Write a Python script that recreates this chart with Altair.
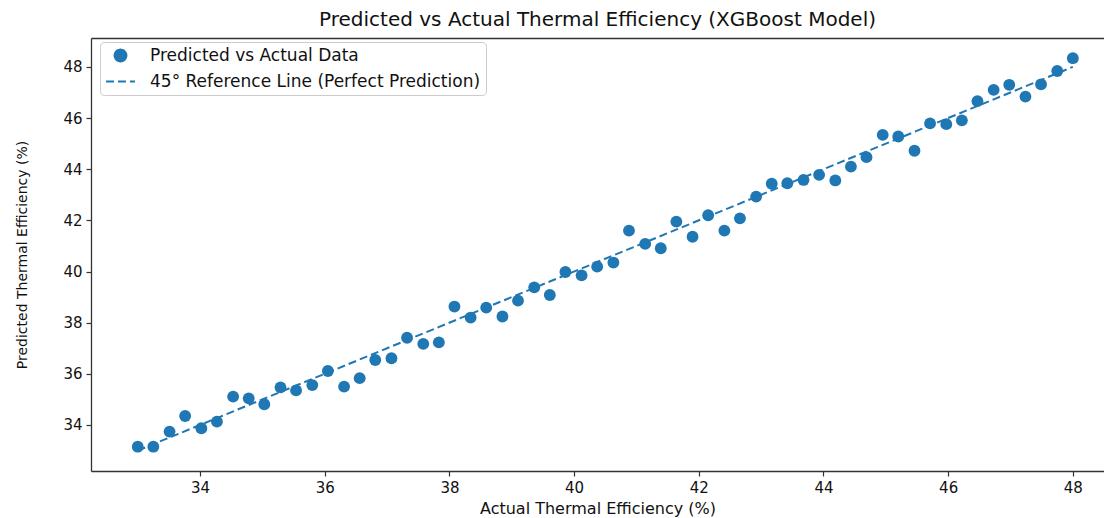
import altair as alt
import pandas as pd

actual = [33.00, 33.25, 33.51, 33.76, 34.02, 34.27, 34.53, 34.78, 35.03, 35.29,
          35.54, 35.80, 36.05, 36.31, 36.56, 36.81, 37.07, 37.32, 37.58, 37.83,
          38.08, 38.34, 38.59, 38.85, 39.10, 39.36, 39.61, 39.86, 40.12, 40.37,
          40.63, 40.88, 41.14, 41.39, 41.64, 41.90, 42.15, 42.41, 42.66, 42.92,
          43.17, 43.42, 43.68, 43.93, 44.19, 44.44, 44.69, 44.95, 45.20, 45.46,
          45.71, 45.97, 46.22, 46.47, 46.73, 46.98, 47.24, 47.49, 47.75, 48.00]
predicted = [33.15, 33.15, 33.74, 34.35, 33.87, 34.13, 35.11, 35.04, 34.81, 35.47,
             35.35, 35.56, 36.11, 35.50, 35.83, 36.54, 36.61, 37.41, 37.17, 37.23,
             38.63, 38.20, 38.59, 38.24, 38.86, 39.38, 39.08, 39.98, 39.85, 40.19,
             40.35, 41.60, 41.08, 40.91, 41.95, 41.36, 42.20, 41.60, 42.08, 42.93,
             43.43, 43.45, 43.58, 43.78, 43.56, 44.10, 44.47, 45.34, 45.28, 44.72,
             45.79, 45.76, 45.91, 46.66, 47.10, 47.30, 46.84, 47.32, 47.84, 48.34]
ref_line = [33.0, 48.0]
series_names = ["Predicted vs Actual Data", "45° Reference Line (Perfect Prediction)"]
tick_values = [34, 36, 38, 40, 42, 44, 46, 48]

blue = "#1f77b4"

pts = pd.DataFrame({"actual": actual, "predicted": predicted, "series": series_names[0]})
line = pd.DataFrame({"actual": ref_line, "predicted": ref_line, "series": series_names[1]})

xscale = alt.Scale(domain=[32.25, 48.5], nice=False, zero=False)
yscale = alt.Scale(domain=[32.2, 49.13], nice=False, zero=False)

legend = alt.Legend(
    title=None, orient="none", legendX=9, legendY=4,
    fillColor="white", strokeColor="#cccccc", cornerRadius=4,
    padding=5, labelFontSize=17, labelFont="DejaVu Sans", labelColor="#111",
    labelLimit=0, rowPadding=-7, labelOffset=14, symbolStrokeWidth=2,
    symbolStrokeColor=blue, symbolFillColor=blue,
)
color = alt.Color("series:N", scale=alt.Scale(domain=series_names, range=[blue, blue]), legend=legend)
shape = alt.Shape("series:N", scale=alt.Scale(domain=series_names, range=["circle", "stroke"]), legend=legend)
size = alt.Size("series:N", scale=alt.Scale(domain=series_names, range=[140, 840]), legend=legend)
dash = alt.StrokeDash("series:N", scale=alt.Scale(domain=series_names, range=[[1, 0], [8, 4]]), legend=legend)

scatter = alt.Chart(pts).mark_point(filled=True, opacity=1).encode(
    x=alt.X("actual:Q", scale=xscale,
            axis=alt.Axis(title="Actual Thermal Efficiency (%)", values=tick_values,
                          grid=False, tickSize=5, labelPadding=4, titlePadding=5)),
    y=alt.Y("predicted:Q", scale=yscale,
            axis=alt.Axis(title="Predicted Thermal Efficiency (%)", values=tick_values,
                          grid=False, tickSize=5, labelPadding=4, titlePadding=33, titleFontSize=14)),
    color=color,
    shape=shape,
    size=size,
)

ref = alt.Chart(line).mark_line(strokeWidth=2).encode(
    x=alt.X("actual:Q", scale=xscale,
            axis=alt.Axis(orient="top", labels=False, ticks=False, title=None, grid=False)),
    y=alt.Y("predicted:Q", scale=yscale,
            axis=alt.Axis(orient="right", labels=False, ticks=False, title=None, grid=False,
                          domain=False, domainOpacity=0)),
    color=color,
    strokeDash=dash,
)

chart = alt.layer(scatter, ref).resolve_axis(x="independent", y="independent").properties(
    width=1013, height=433,
    title=alt.Title("Predicted vs Actual Thermal Efficiency (XGBoost Model)",
                    fontSize=20, font="DejaVu Sans", fontWeight="normal", color="#111",
                    offset=8, anchor="middle"),
    autosize=alt.AutoSizeParams(type="none"),
    padding={"left": 83, "top": 30, "right": 0, "bottom": 46},
).configure_view(strokeWidth=0, strokeOpacity=0).configure_axis(
    domainColor="#333", domainWidth=1.3, tickColor="#333", tickWidth=1.2,
    labelFont="DejaVu Sans", labelFontSize=15, labelColor="#111",
    titleFont="DejaVu Sans", titleFontSize=16, titleFontWeight="normal", titleColor="#111",
)

chart.save("out.html", embed_options={"renderer": "svg", "actions": False})
